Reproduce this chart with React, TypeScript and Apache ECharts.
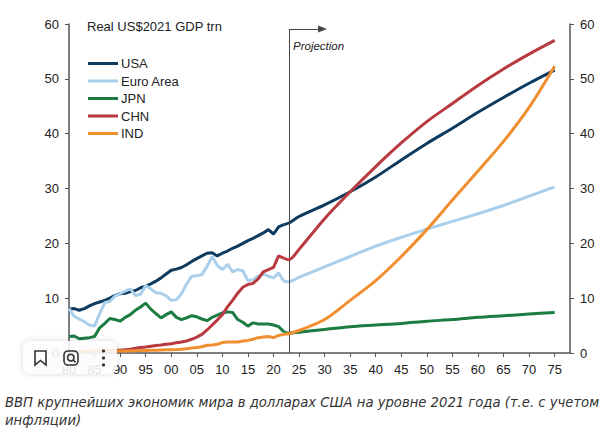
import React, { useEffect, useRef } from 'react';
import * as echarts from 'echarts';

// history, annual
const histYears = [
  1980, 1981, 1982, 1983, 1984, 1985, 1986, 1987, 1988, 1989,
  1990, 1991, 1992, 1993, 1994, 1995, 1996, 1997, 1998, 1999,
  2000, 2001, 2002, 2003, 2004, 2005, 2006, 2007, 2008, 2009,
  2010, 2011, 2012, 2013, 2014, 2015, 2016, 2017, 2018, 2019,
  2020, 2021, 2022,
];
const usaHist = [
  8.0, 8.1, 7.8, 8.1, 8.6, 9.0, 9.3, 9.6, 10.0, 10.5,
  10.8, 10.9, 11.2, 11.4, 11.9, 12.2, 12.6, 13.1, 13.7, 14.4,
  15.1, 15.3, 15.6, 16.1, 16.7, 17.2, 17.7, 18.2, 18.3, 17.7,
  18.2, 18.6, 19.1, 19.5, 20.0, 20.5, 20.9, 21.4, 21.9, 22.5,
  21.7, 23.0, 23.4,
];
const euroHist = [
  8.1, 6.7, 6.2, 5.7, 5.1, 4.9, 7.2, 9.2, 9.4, 10.4,
  10.8, 11.3, 11.7, 10.5, 10.7, 12.3, 11.7, 11.0, 10.9, 10.4,
  9.6, 9.7, 10.8, 12.6, 14.0, 14.1, 14.3, 15.8, 17.6, 16.0,
  15.2, 16.2, 14.8, 15.2, 15.0, 13.2, 13.4, 14.0, 14.5, 14.0,
  13.7, 14.6, 13.1,
];
const jpnHist = [
  3.0, 3.1, 2.6, 2.7, 2.8, 3.0, 4.6, 5.4, 6.3, 6.1,
  5.8, 6.5, 7.0, 7.8, 8.4, 9.1, 8.0, 7.2, 6.4, 7.0,
  7.5, 6.5, 6.1, 6.4, 6.8, 6.6, 6.2, 5.9, 6.5, 6.9,
  7.3, 7.5, 7.4, 6.1, 5.6, 4.9, 5.5, 5.3, 5.3, 5.3,
  5.1, 4.8, 3.9,
];
const chnHist = [
  0.2, 0.22, 0.25, 0.28, 0.32, 0.35, 0.38, 0.42, 0.46, 0.48,
  0.5, 0.6, 0.7, 0.85, 1.0, 1.1, 1.25, 1.35, 1.45, 1.6,
  1.7, 1.85, 2.0, 2.2, 2.5, 2.9, 3.4, 4.2, 5.1, 6.0,
  7.0, 8.4, 9.6, 10.9, 12.0, 12.5, 12.7, 13.5, 14.8, 15.2,
  15.6, 17.7, 17.3,
];
const indHist = [
  0.25, 0.26, 0.27, 0.28, 0.29, 0.3, 0.31, 0.33, 0.35, 0.37,
  0.38, 0.38, 0.4, 0.42, 0.44, 0.47, 0.5, 0.52, 0.55, 0.58,
  0.6, 0.63, 0.68, 0.78, 0.9, 1.0, 1.15, 1.4, 1.45, 1.6,
  1.9, 2.0, 2.0, 2.0, 2.2, 2.3, 2.5, 2.8, 2.9, 3.0,
  2.8, 3.2, 3.4,
];

// projection (starts from the last actual year)
const projYears = [2022, 2023, 2025, 2030, 2035, 2040, 2045, 2050, 2055, 2060, 2065, 2070, 2075];
const usaProj = [23.4, 23.7, 24.9, 27.0, 29.4, 32.1, 35.2, 38.2, 41.0, 43.9, 46.6, 49.2, 51.6];
const euroProj = [13.1, 13.0, 13.8, 15.7, 17.6, 19.5, 21.1, 22.6, 24.0, 25.4, 26.9, 28.6, 30.3];
const jpnProj = [3.9, 3.6, 3.8, 4.3, 4.8, 5.1, 5.4, 5.8, 6.1, 6.5, 6.8, 7.1, 7.4];
const chnProj = [17.3, 17.0, 18.9, 24.5, 29.4, 34.0, 38.3, 42.2, 45.5, 48.8, 51.8, 54.5, 57.0];
const indProj = [3.4, 3.5, 4.1, 6.1, 9.6, 13.2, 17.6, 22.5, 27.9, 33.2, 38.6, 44.8, 52.3];

const yTicks = [0, 10, 20, 30, 40, 50, 60];
const projectionYear = 2023;

const countries = [
  { name: 'USA', color: '#0d3a5f', hist: usaHist, proj: usaProj },
  { name: 'Euro Area', color: '#a9cfeb', hist: euroHist, proj: euroProj },
  { name: 'JPN', color: '#1b7c42', hist: jpnHist, proj: jpnProj },
  { name: 'CHN', color: '#b8393f', hist: chnHist, proj: chnProj },
  { name: 'IND', color: '#f08e30', hist: indHist, proj: indProj },
];

const FONT = '"Liberation Sans", Arial, sans-serif';
const AXIS_COLOR = '#555';

const toPairs = (xs: number[], ys: number[]) => xs.map((x, i) => [x, ys[i]]);

const App: React.FC = () => {
  const chartRef = useRef<HTMLDivElement>(null);

  useEffect(() => {
    if (!chartRef.current) return;
    const chart = echarts.init(chartRef.current, undefined, { renderer: 'svg' });

    const yAxisBase = {
      type: 'value' as const,
      min: yTicks[0],
      max: yTicks[yTicks.length - 1],
      interval: 10,
      axisLine: { show: true, lineStyle: { color: AXIS_COLOR, width: 1.5 } },
      axisTick: { show: true, length: 4, lineStyle: { color: AXIS_COLOR, width: 1 } },
      axisLabel: { color: '#222', fontSize: 13, fontFamily: FONT, margin: 10 },
      splitLine: { show: false },
    };

    const series: any[] = [];
    countries.forEach((c, i) => {
      series.push({
        name: c.name,
        type: 'line',
        data: toPairs(histYears, c.hist),
        symbol: 'none',
        lineStyle: { width: 3, color: c.color },
        itemStyle: { color: c.color },
        z: 2 + i,
      });
      series.push({
        name: c.name,
        type: 'line',
        data: toPairs(projYears, c.proj),
        symbol: 'none',
        smooth: 0.3,
        lineStyle: { width: 3, color: c.color },
        itemStyle: { color: c.color },
        z: 2 + i,
      });
    });

    // projection marker: vertical line + arrow
    series[0].markLine = {
      silent: true,
      symbol: ['none', 'none'],
      label: { show: false },
      lineStyle: { color: '#444', width: 1, type: 'solid' },
      data: [
        [{ coord: [projectionYear, 0] }, { coord: [projectionYear, 59.1] }],
        [
          { coord: [projectionYear, 59.1] },
          { coord: [2029.6, 59.1], symbol: 'triangle', symbolSize: [7, 9] },
        ],
      ],
    };

    const overlayStyle = { stroke: '#333', lineWidth: 1.6, fill: 'none' };

    const option: echarts.EChartsOption = {
      animation: false,
      backgroundColor: '#fff',
      textStyle: { fontFamily: FONT },
      grid: { left: 69, right: 40, top: 24, bottom: 76 },
      legend: {
        data: countries.map(c => c.name),
        orient: 'vertical',
        left: 88,
        top: 57,
        padding: 0,
        itemGap: 4.5,
        itemWidth: 30,
        itemHeight: 3,
        icon: 'rect',
        textStyle: { color: '#222', fontSize: 13, fontFamily: FONT, padding: [0, 0, 0, -2] },
      },
      xAxis: {
        type: 'value',
        min: 1980,
        max: 2078,
        interval: 5,
        axisLine: { lineStyle: { color: AXIS_COLOR, width: 1.5 } },
        axisTick: { length: 4, lineStyle: { color: AXIS_COLOR, width: 1 } },
        splitLine: { show: false },
        axisLabel: {
          color: '#222',
          fontSize: 13,
          fontFamily: FONT,
          margin: 10,
          showMaxLabel: false,
          formatter: (v: number) => (v % 5 === 0 && v <= 2075 ? String(v).slice(2) : ''),
        },
      },
      yAxis: [
        { ...yAxisBase, position: 'left' },
        { ...yAxisBase, position: 'right' },
      ],
      series,
      graphic: [
        {
          type: 'text',
          left: 87,
          top: 20,
          style: { text: 'Real US$2021 GDP trn', fill: '#222', font: `13px ${FONT}` },
        },
        {
          type: 'text',
          left: 293,
          top: 40,
          style: { text: 'Projection', fill: '#222', font: `italic 11.5px ${FONT}` },
        },
        {
          type: 'text',
          left: 5,
          top: 393,
          style: {
            text: 'ВВП крупнейших экономик мира в долларах США на уровне 2021 года (т.е. с учетом\nинфляции)',
            fill: '#333',
            font: 'italic 13.2px "DejaVu Sans", Verdana, sans-serif',
            lineHeight: 18,
          },
        },
        // page overlay widget
        {
          type: 'rect',
          z: 100,
          shape: { x: 23, y: 341, width: 94, height: 33, r: 8 },
          style: {
            fill: 'rgba(255,255,255,0.86)',
            shadowBlur: 6,
            shadowColor: 'rgba(0,0,0,0.18)',
          },
        },
        {
          type: 'polygon',
          z: 101,
          shape: { points: [[35, 351], [35, 365], [40.5, 360.5], [46, 365], [46, 351]] },
          style: overlayStyle,
        },
        {
          type: 'rect',
          z: 101,
          shape: { x: 64, y: 351, width: 14, height: 14, r: 4 },
          style: overlayStyle,
        },
        {
          type: 'circle',
          z: 101,
          shape: { cx: 70.8, cy: 357.6, r: 3.3 },
          style: overlayStyle,
        },
        {
          type: 'line',
          z: 101,
          shape: { x1: 73.2, y1: 360, x2: 75.6, y2: 362.4 },
          style: overlayStyle,
        },
        { type: 'circle', z: 101, shape: { cx: 103.5, cy: 351, r: 1.6 }, style: { fill: '#333' } },
        { type: 'circle', z: 101, shape: { cx: 103.5, cy: 358, r: 1.6 }, style: { fill: '#333' } },
        { type: 'circle', z: 101, shape: { cx: 103.5, cy: 365, r: 1.6 }, style: { fill: '#333' } },
      ],
    };

    chart.setOption(option);

    return () => {
      chart.dispose();
    };
  }, []);

  return (
    <div
      ref={chartRef}
      style={{ position: 'absolute', left: 0, top: 0, width: '610px', height: '429px' }}
    />
  );
};

export default App;
